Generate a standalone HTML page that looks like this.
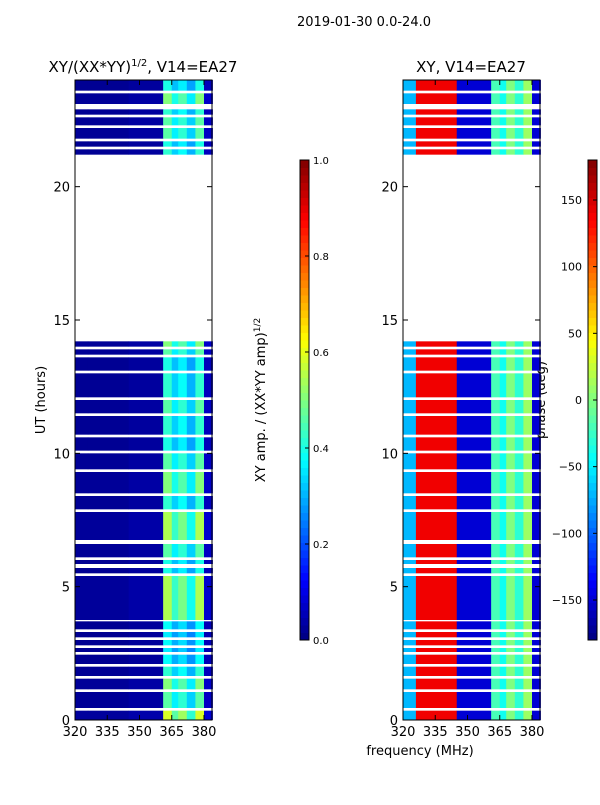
<!DOCTYPE html>
<html><head><meta charset="utf-8"><style>
body{margin:0;background:#fff;}
svg{font-family:"DejaVu Sans","Liberation Sans",sans-serif;}
</style></head><body>
<svg id="fig" width="600" height="800" xmlns="http://www.w3.org/2000/svg">
<rect width="600" height="800" fill="#fff"/>
<text x="364" y="26" font-size="13" text-anchor="middle">2019-01-30 0.0-24.0</text>
<text x="143" y="72" font-size="15" text-anchor="middle">XY/(XX*YY)<tspan dy="-6" font-size="10">1/2</tspan><tspan dy="6">, V14=EA27</tspan></text>
<text x="471" y="72" font-size="15" text-anchor="middle">XY, V14=EA27</text>
<text transform="translate(45,400) rotate(-90)" font-size="13" text-anchor="middle">UT (hours)</text>
<text transform="translate(265,400) rotate(-90)" font-size="13" text-anchor="middle">XY amp. / (XX*YY amp)<tspan dy="-5" font-size="9">1/2</tspan></text>
<text transform="translate(545,400) rotate(-90)" font-size="13" text-anchor="middle">phase (deg)</text>
<text x="420" y="755" font-size="13" text-anchor="middle">frequency (MHz)</text>
<g id="plots"></g>
</svg>
<script>
// data
const bandStarts=[0,0.45,1.15,1.65,2.1,2.55,2.8,3.1,3.4,3.75,5.5,5.85,6.1,6.75,7.9,8.5,9.4,10.1,10.7,11.5,12.1,13.1,13.7,14.0,21.2,21.5,21.8,22.3,22.7,23.1,23.6];
const bandEnds=[0.35,1.05,1.55,2.0,2.45,2.7,3.0,3.3,3.7,5.4,5.7,6.0,6.6,7.8,8.4,9.3,10.0,10.6,11.4,12.0,13.0,13.6,13.9,14.2,21.4,21.7,22.2,22.6,22.9,23.5,24];
const bandFactor=[1.4,1.1,1.2,1.0,0.9,0.85,0.9,0.85,0.9,1.3,0.95,0.95,1.1,1.3,1.0,1.2,1.1,0.95,1.0,1.1,1.0,0.95,1.1,1.2,1.0,0.95,1.1,1.1,1.0,1.2,0.95];
const freqStarts=[320,326,345,361,365,368,372,376,380];
const freqEnds=[326,345,361,365,368,372,376,380,384];
const ampValues=[0.02,0.02,0.03,0.42,0.33,0.38,0.3,0.42,0.06];
const phaseValues=[-70,140,-150,-20,-40,0,-30,10,-150];
const xTicks=[320,335,350,365,380];
const yTicks=[0,5,10,15,20];
const ampTicks=[0,0.2,0.4,0.6,0.8,1.0];
const phaseTicks=[-150,-100,-50,0,50,100,150];

function jet(v){v=Math.max(0,Math.min(1,v));
 const r=Math.max(0,Math.min(1,1.5-Math.abs(4*v-3))),g=Math.max(0,Math.min(1,1.5-Math.abs(4*v-2))),b=Math.max(0,Math.min(1,1.5-Math.abs(4*v-1)));
 return `rgb(${Math.round(r*255)},${Math.round(g*255)},${Math.round(b*255)})`;}
const NS="http://www.w3.org/2000/svg",G=document.getElementById('plots');
function el(t,a,p){const e=document.createElementNS(NS,t);for(const k in a)e.setAttribute(k,a[k]);(p||G).appendChild(e);return e;}
const y=h=>720-h*(640/24);
function panel(x0,name,vals,norm){
 const xs=f=>x0+(f-320)*(129/60);
 const g=el('g',{});
 
 
 for(let b=0;b<bandStarts.length;b++)for(let c=0;c<freqStarts.length;c++){
  let v=norm(vals[c],bandFactor[b]);
  const r=el('rect',{x:xs(freqStarts[c]),y:y(bandEnds[b]),width:xs(freqEnds[c])-xs(freqStarts[c])+0.3,height:y(bandStarts[b])-y(bandEnds[b]),fill:jet(v)},g);
  
  
 }
 const f=el('rect',{x:x0,y:80,width:137,height:640,fill:'none',stroke:'#000'});
 
 
 xTicks.forEach(t=>{const X=xs(t);el('line',{x1:X,x2:X,y1:720,y2:715,stroke:'#000'});el('line',{x1:X,x2:X,y1:80,y2:85,stroke:'#000'});
  const tx=el('text',{x:X,y:736,'font-size':13,'text-anchor':'middle'});tx.textContent=t;
  
  });
 yTicks.forEach(t=>{const Y=y(t);el('line',{x1:x0,x2:x0+5,y1:Y,y2:Y,stroke:'#000'});el('line',{x1:x0+137,x2:x0+132,y1:Y,y2:Y,stroke:'#000'});
  const tx=el('text',{x:x0-5,y:Y+5,'font-size':13,'text-anchor':'end'});tx.textContent=t;
  
  });
}
panel(75,'amplitude-heatmap',ampValues,(v,f)=>v*f);
panel(403,'phase-heatmap',phaseValues,(v,f)=>(v+180)/360);
function cbar(x0,name,ticks,lo,hi,leftLabels){
 const n=64;
 for(let i=0;i<n;i++){const r=el('rect',{x:x0,y:640-(i+1)*480/n,width:9,height:480/n+0.5,fill:jet((i+0.5)/n)});
  
  }
 const f=el('rect',{x:x0,y:160,width:9,height:480,fill:'none',stroke:'#000'});
 
 
 ticks.forEach(t=>{const Y=640-(t-lo)/(hi-lo)*480;el('line',{x1:x0+9,x2:x0+5,y1:Y,y2:Y,stroke:'#000'});
  const tx=leftLabels?el('text',{x:x0-6,y:Y+4,'font-size':11,'text-anchor':'end'}):el('text',{x:x0+13,y:Y+4,'font-size':10});
  tx.textContent=leftLabels?String(t).replace('-','\u2212'):t.toFixed(1);
  
  });
}
cbar(300,'amp-colorbar',ampTicks,0,1,false);
cbar(588,'phase-colorbar',phaseTicks,-180,180,true);
</script>
</body></html>
